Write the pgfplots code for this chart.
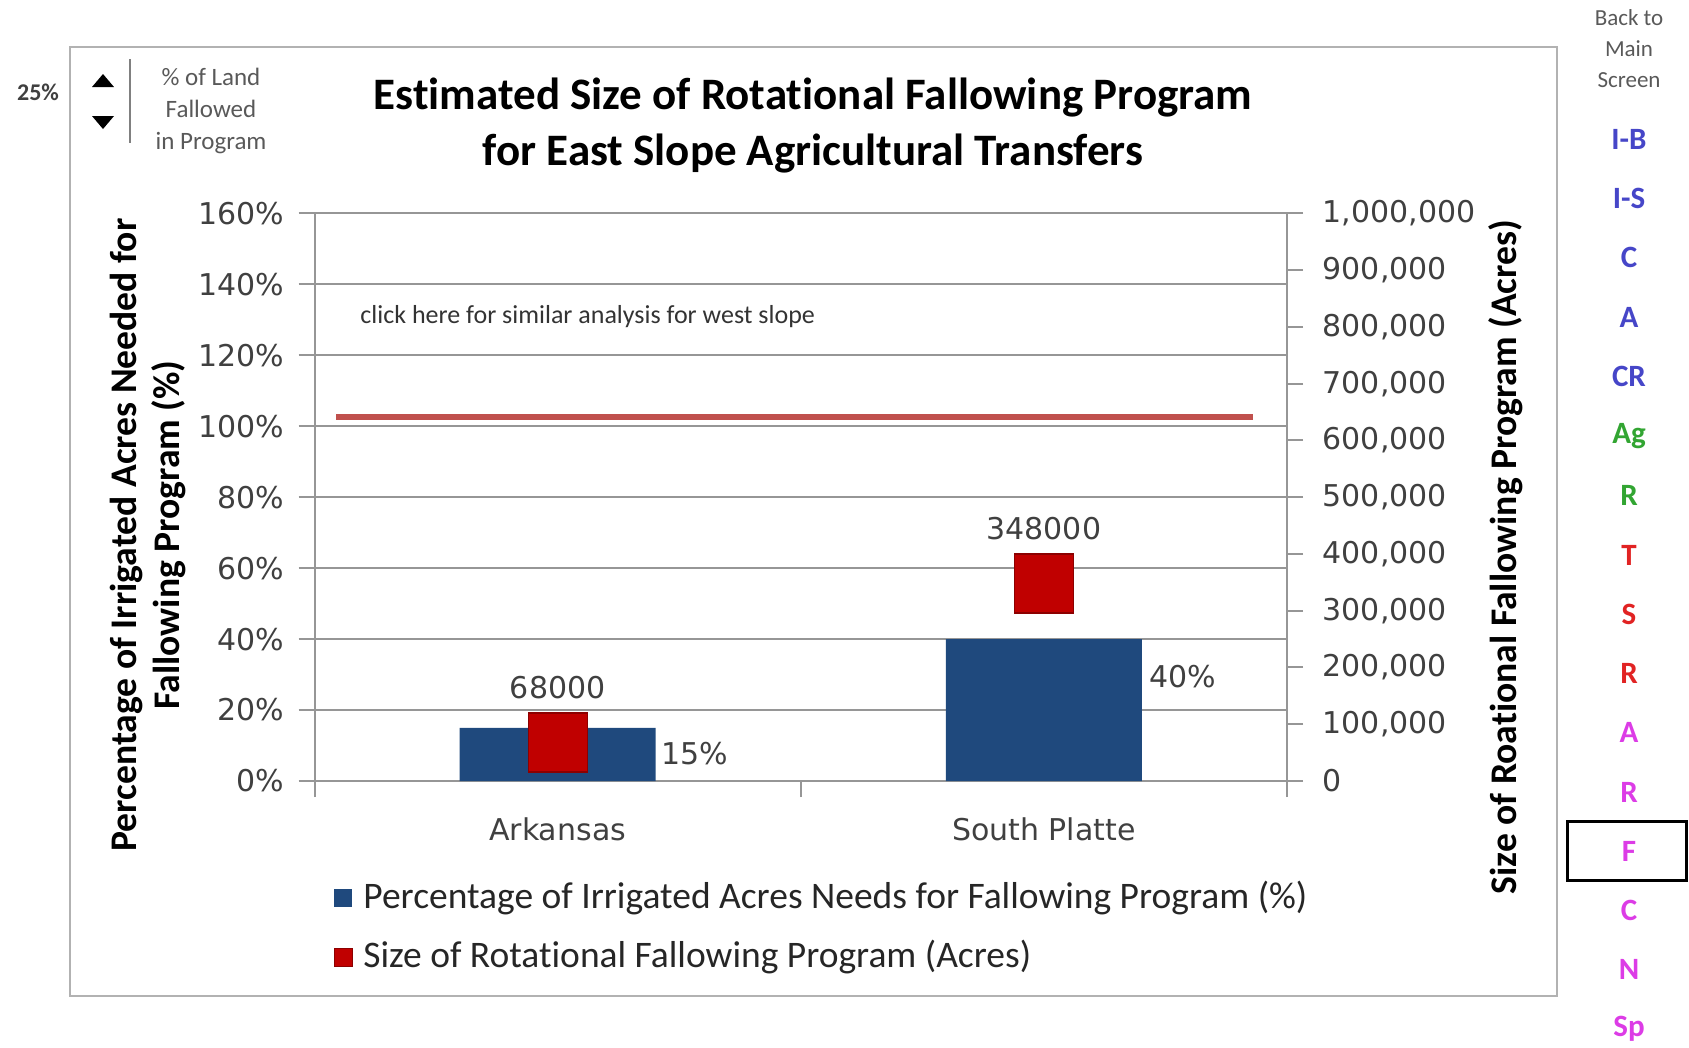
\documentclass[border=0pt]{standalone}
\usepackage{pgfplots}
\pgfplotsset{compat=1.18}
\usepackage{fontspec}
\setmainfont{Carlito}[Ligatures={NoCommon}]
\newfontfamily\dejavu{DejaVu Sans}
\definecolor{barblue}{RGB}{31,73,125}
\definecolor{sqred}{RGB}{192,0,0}
\definecolor{linered}{RGB}{192,80,77}
\definecolor{tickgray}{RGB}{64,64,64}
\definecolor{gridgray}{RGB}{150,150,150}
\definecolor{navblue}{RGB}{70,70,200}
\definecolor{navgreen}{RGB}{50,165,50}
\definecolor{navred}{RGB}{225,35,35}
\definecolor{navmag}{RGB}{220,60,230}
\begin{document}
\begin{tikzpicture}[x=0.5pt,y=-0.5pt]
\path (0,0) rectangle (1689,1047);
\draw[black!30, line width=1pt] (70,47) rectangle (1557,996);
\begin{axis}[
  at={(157.25pt,-390.5pt)}, anchor=south west,
  scale only axis, width=486.25pt, height=283.85pt,
  xmin=-0.5, xmax=1.5, ymin=0, ymax=160,
  axis x line*=bottom, axis y line*=left,
  axis line style={gridgray, line width=1pt, -},
  ymajorgrids, grid style={gridgray, line width=1pt},
  ytick={0,20,...,160},
  yticklabels={0\%,20\%,40\%,60\%,80\%,100\%,120\%,140\%,160\%},
  xtick={0,1}, xticklabels={Arkansas,South Platte},
  minor xtick={-0.5,0.5,1.5},
  major x tick style={draw=none},
  minor x tick style={gridgray, line width=1pt},
  minor tick length=8pt,
  y tick style={gridgray, line width=1pt},
  major tick length=8pt,
  tick align=outside,
  tick label style={font=\dejavu\fontsize{15}{18}\selectfont, text=tickgray, inner sep=0pt},
  yticklabel style={anchor=east, xshift=-7pt},
  xticklabel style={anchor=base, yshift=-21.5pt},
  clip=false,
]
\addplot[ybar, bar width=98pt, bar shift=0pt, fill=barblue, draw=none] coordinates {(0,15) (1,40)};
\addplot[linered, line width=3.4pt] coordinates {(-0.455,102.6) (1.43,102.6)};
\node[anchor=west, font=\dejavu\fontsize{15}{18}\selectfont, text=tickgray, inner sep=0pt] at (axis cs:0.212,7.6) {15\%};
\node[anchor=west, font=\dejavu\fontsize{15}{18}\selectfont, text=tickgray, inner sep=0pt] at (axis cs:1.216,29.4) {40\%};
\end{axis}
\begin{axis}[
  at={(157.25pt,-390.5pt)}, anchor=south west,
  scale only axis, width=486.25pt, height=283.85pt,
  xmin=-0.5, xmax=1.5, ymin=0, ymax=1000000,
  axis x line=none, axis y line*=right,
  axis line style={gridgray, line width=1pt, -},
  ytick={0,100000,...,1000000},
  yticklabels={0,{100,000},{200,000},{300,000},{400,000},{500,000},{600,000},{700,000},{800,000},{900,000},{1,000,000}},
  scaled y ticks=false,
  y tick style={gridgray, line width=1pt},
  major tick length=8pt,
  tick align=outside,
  tick label style={font=\dejavu\fontsize{15}{18}\selectfont, text=tickgray, inner sep=0pt},
  yticklabel style={anchor=west, xshift=9.7pt},
  clip=false,
]
\addplot[only marks, mark=square*, mark size=14.75pt, mark options={fill=sqred, draw=red!55!black, line width=0.6pt},
  point meta=explicit symbolic, nodes near coords,
  every node near coord/.append style={anchor=center, yshift=27.5pt, font=\dejavu\fontsize{15}{18}\selectfont, text=tickgray}]
  coordinates {(0,68000) [68000] (1,348000) [348000]};
\end{axis}
% title
\node[font=\bfseries\fontsize{22.5}{28}\selectfont, align=center] at (813,126) {Estimated Size of Rotational Fallowing Program\\for East Slope Agricultural Transfers};
% axis labels
\node[rotate=90, font=\bfseries\fontsize{18.8}{21.5}\selectfont, align=center] at (148,535) {Percentage of Irrigated Acres Needed for\\Fallowing Program (\%)};
\node[rotate=90, font=\bfseries\fontsize{18.8}{21.5}\selectfont] at (1506,557) {Size of Roational Fallowing Program (Acres)};
% legend
\fill[barblue] (334,889) rectangle (352,907);
\node[anchor=west, font=\fontsize{18.75}{20}\selectfont, text=black!85, inner sep=0pt] at (363,898) {Percentage of Irrigated Acres Needs for Fallowing Program (\%)};
\filldraw[fill=sqred, draw=red!55!black, line width=0.5pt] (334,948) rectangle (352,966);
\node[anchor=west, font=\fontsize{18.75}{20}\selectfont, text=black!85, inner sep=0pt] at (363,957) {Size of Rotational Fallowing Program (Acres)};
% link text
\node[anchor=west, font=\fontsize{13}{14}\selectfont, text=black!80, inner sep=0pt] at (360,317) {click here for similar analysis for west slope};
% top-left control
\node[font=\bfseries\fontsize{12}{14}\selectfont, text=black!75] at (38,92) {25\%};
\fill[black] (92,87) -- (114,87) -- (103,74) -- cycle;
\fill[black] (92,116) -- (114,116) -- (103,129) -- cycle;
\draw[black!50, line width=0.6pt] (130,59) -- (130,143);
\node[font=\fontsize{12.5}{16}\selectfont, text=black!65, align=center] at (211,111) {\% of Land\\Fallowed\\in Program};
% navigation
\node[font=\fontsize{11.5}{15.5}\selectfont, text=black!65, align=center] at (1629,49) {Back to\\Main\\Screen};
\begin{scope}[every node/.style={font=\bfseries\fontsize{15.5}{18}\selectfont}]
\node[text=navblue] at (1629,139) {I-B};
\node[text=navblue] at (1629,198) {I-S};
\node[text=navblue] at (1629,257.5) {C};
\node[text=navblue] at (1629,317) {A};
\node[text=navblue] at (1629,376) {CR};
\node[text=navgreen] at (1629,436) {Ag};
\node[text=navgreen] at (1629,495.5) {R};
\node[text=navred] at (1629,555) {T};
\node[text=navred] at (1629,614) {S};
\node[text=navred] at (1629,673) {R};
\node[text=navmag] at (1629,732.5) {A};
\node[text=navmag] at (1629,792) {R};
\node[text=navmag] at (1629,851) {F};
\node[text=navmag] at (1629,910) {C};
\node[text=navmag] at (1629,969.5) {N};
\node[text=navmag] at (1629,1028.7) {Sp};
\end{scope}
\draw[black, line width=1.5pt] (1567,821) rectangle (1686,880);
\end{tikzpicture}
\end{document}
